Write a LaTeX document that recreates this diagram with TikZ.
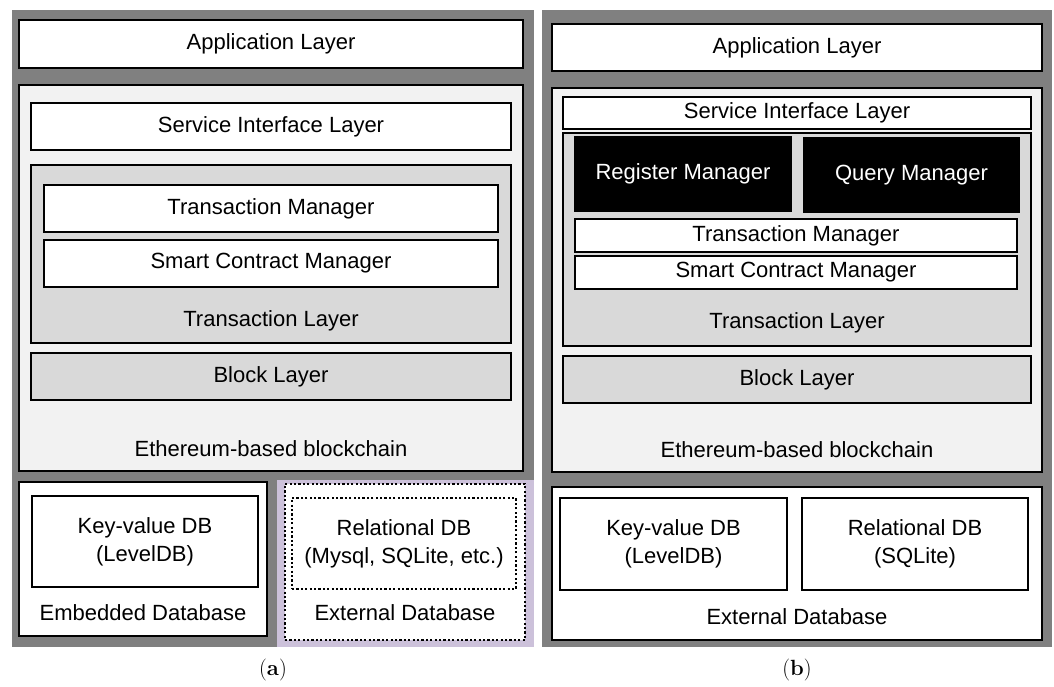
\documentclass[tikz,border=0pt]{standalone}
\usepackage{fontspec}
\setsansfont{Liberation Sans}
\definecolor{framegray}{HTML}{808080}
\definecolor{ethfill}{HTML}{F2F2F2}
\definecolor{txfill}{HTML}{D9D9D9}
\definecolor{lavender}{HTML}{CCC1DA}
\newcommand{\boxnode}[7]{% style, name, x1, y1, x2, y2, text
  \node[#1, minimum width={(#5)-(#3)}, minimum height={(#6)-(#4)}] (#2) at ({((#3)+(#5))/2},{((#4)+(#6))/2}) {#7};}
\begin{document}
\begin{tikzpicture}[x=1pt,y=-1pt,
  every node/.style={font=\sffamily\fontsize{22}{26}\selectfont, inner sep=0pt, outer sep=0pt, align=center},
  panel/.style={fill=framegray, draw=none},
  whitebox/.style={fill=white, draw=black, line width=1.3pt},
  ethbox/.style={fill=ethfill, draw=black, line width=1.3pt},
  txbox/.style={fill=txfill, draw=black, line width=1.3pt},
  blackbox/.style={fill=black, draw=black, line width=1.3pt, text=white},
  lavbox/.style={fill=lavender, draw=none},
  dotbox/.style={fill=white, draw=black, line width=1.4pt, dash pattern=on 2.2pt off 2.2pt},
  caption/.style={font=\rmfamily\fontsize{22}{26}\selectfont}
]
\useasboundingbox (0,0) rectangle (1054,687);

% ---------------- panel (a) ----------------
\boxnode{panel}{pa}{12}{10}{534}{647}{}
\boxnode{lavbox}{lav}{277}{480}{534}{647}{}
\boxnode{whitebox}{appA}{19}{20}{523}{68}{Application Layer}
\boxnode{ethbox}{ethA}{19}{85}{523}{471}{}
\boxnode{whitebox}{sifA}{31}{103}{511}{150}{Service Interface Layer}
\boxnode{txbox}{txlA}{31}{165}{511}{343}{}
\boxnode{whitebox}{tmA}{44}{185}{498}{232}{Transaction Manager}
\boxnode{whitebox}{scA}{44}{240}{498}{287}{Smart Contract Manager}
\node (txlAlab) at (271,321) {Transaction Layer};
\boxnode{txbox}{blkA}{31}{353}{511}{400}{Block Layer}
\node (ethAlab) at (271,449) {Ethereum-based blockchain};

\boxnode{whitebox}{embA}{19}{482}{267}{636}{}
\boxnode{whitebox}{kvA}{32}{496}{258}{587}{Key-value DB\\[2pt](LevelDB)}
\node (embAlab) at (143,613) {Embedded Database};

\boxnode{dotbox}{extA}{285}{484}{525}{640}{}
\boxnode{dotbox}{relA}{292}{498}{516}{589}{Relational DB\\[2pt](Mysql, SQLite, etc.)}
\node (extAlab) at (405,613) {External Database};

\node[caption] (capA) at (273,670) {(\textbf{a})};

% ---------------- panel (b) ----------------
\boxnode{panel}{pb}{542}{10}{1052}{647}{}
\boxnode{whitebox}{appB}{552}{24}{1042}{71}{Application Layer}
\boxnode{ethbox}{ethB}{552}{88}{1042}{472}{}
\boxnode{whitebox}{sifB}{563}{97}{1031}{129}{Service Interface Layer}
\boxnode{txbox}{txlB}{563}{133}{1031}{346}{}
\boxnode{blackbox}{regB}{575}{137}{791}{211}{Register Manager}
\boxnode{blackbox}{qryB}{804}{138}{1019}{212}{Query Manager}
\boxnode{whitebox}{tmB}{575}{219}{1017}{252}{Transaction Manager}
\boxnode{whitebox}{scB}{575}{256}{1017}{289}{Smart Contract Manager}
\node (txlBlab) at (797,323) {Transaction Layer};
\boxnode{txbox}{blkB}{563}{356}{1031}{403}{Block Layer}
\node (ethBlab) at (797,450) {Ethereum-based blockchain};

\boxnode{whitebox}{extB}{552}{487}{1042}{640}{}
\boxnode{whitebox}{kvB}{560}{498}{787}{590}{Key-value DB\\[2pt](LevelDB)}
\boxnode{whitebox}{relB}{802}{498}{1028}{590}{Relational DB\\[2pt](SQLite)}
\node (extBlab) at (797,617) {External Database};

\node[caption] (capB) at (797,670) {(\textbf{b})};
\end{tikzpicture}
\end{document}
